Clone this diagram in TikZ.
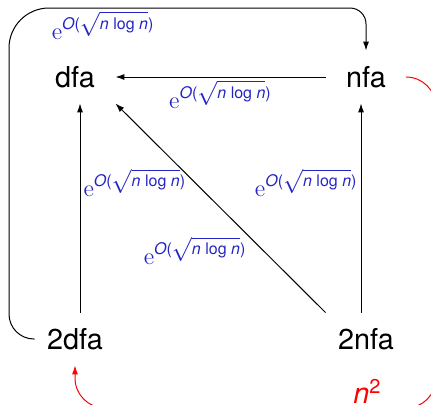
\documentclass[tikz,border=0pt]{standalone}
\usepackage{amsmath}
\usepackage{fontspec}
\setsansfont{TeX Gyre Heros}
\usetikzlibrary{arrows.meta}
\definecolor{bndBlue}{RGB}{36,36,196}
\definecolor{sqRed}{RGB}{255,0,0}
\newcommand{\expbound}{$\mathrm{e}^{\textsf{\itshape O}\textsf{(}\sqrt{\textsf{\itshape n \upshape log \itshape n}}\textsf{)}}$}

\begin{document}
\begin{tikzpicture}[x=0.5pt,y=0.5pt,
  fa/.style={font=\sffamily\Large, minimum width=40pt, minimum height=26pt, inner sep=0pt},
  conv/.style={-{Latex[length=4.5pt,width=3pt]}, line width=0.5pt},
  bnd/.style={font=\large, text=bndBlue, inner sep=1.5pt}]
  \clip (0,0) rectangle (431,404);
  \node[fa] (dfa) at (75,327) {dfa};
  \node[fa] (nfa) at (366,327) {nfa};
  \node[fa] (twodfa) at (75,65) {2dfa};
  \node[fa] (twonfa) at (366,65) {2nfa};
  \coordinate (bl) at (9,65);
  \coordinate (tl) at (9,396);
  \coordinate (tr) at (366,396);
  \coordinate (rr) at (436,327);
  \coordinate (br) at (436,-4);
  \coordinate (lb) at (75,-4);
  \draw[conv] (nfa) -- node[bnd, below] {\expbound} (dfa);
  \draw[conv] ([xshift=2.5pt]twodfa.north) -- node[bnd, right, pos=0.62] {\expbound} ([xshift=2.5pt]dfa.south);
  \draw[conv] ([xshift=-2.5pt]twonfa.north) -- node[bnd, left, pos=0.62] {\expbound} ([xshift=-2.5pt]nfa.south);
  \draw[conv] (twonfa.north west) -- node[bnd, below left, pos=0.37, inner sep=0.5pt] {\expbound} (dfa.south east);
  \draw[conv] (twodfa.west) [rounded corners=12.5pt] -- (bl) [rounded corners=20pt] -- (tl)
    [rounded corners=8pt] -- node[bnd, below right, pos=0.11] {\expbound} (tr) -- (nfa.north);
  \draw[conv, sqRed, rounded corners=15pt] (nfa.east) -- (rr) -- (br)
    -- node[above, pos=0.19, inner sep=2pt, font=\sffamily\Large\itshape] {n\textsuperscript{\upshape 2}} (lb) -- (twodfa.south);
\end{tikzpicture}
\end{document}
